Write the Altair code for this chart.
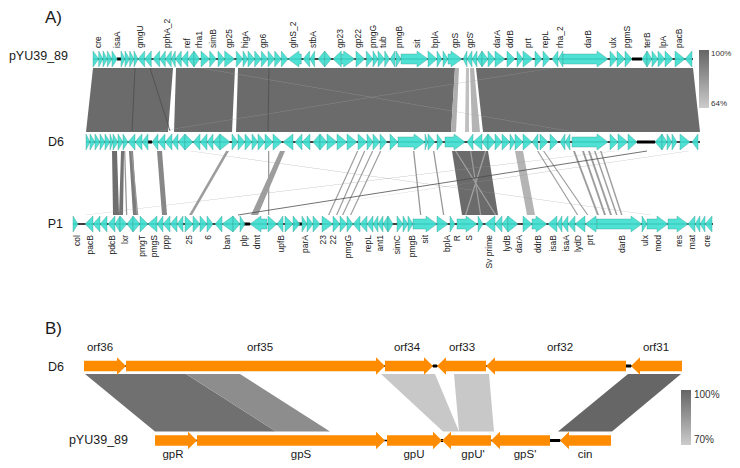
import altair as alt
import pandas as pd

FONT = "Liberation Sans"

# ---------------- track rows (vertical position of each sequence row) ----------------
ROW_Y = {"A_pYU": 59, "A_D6": 142, "A_P1": 224, "B_D6": 366, "B_pYU": 440.5}
ROW_SPAN = {"A_pYU": (93, 693), "A_D6": (86, 700), "A_P1": (73, 713),
            "B_D6": (84, 682), "B_pYU": (155, 611)}

# ---------------- genes: (start, end, strand) ----------------
PYU_GENES = [
    (93, 98.7, 1), (98.7, 103, 1), (103, 107.3, 1), (107.3, 112, 1), (112, 117.3, 1),
    (121, 125, 1), (125, 129.7, 1), (129.7, 134, 1), (134, 138, 1),
    (138, 144.7, -1), (144.7, 151.3, -1), (153, 159.7, -1), (159.7, 165.3, -1),
    (165.3, 171.3, -1), (171.3, 175.3, -1), (175.3, 181.3, -1), (181.3, 188, -1),
    (188, 194, -1), (194, 199.7, 1), (201, 209.7, 1), (209.7, 216.3, 1),
    (218, 224.7, 1), (224.7, 234.7, 1),
    (236.3, 243, 1), (243, 248, 1), (248, 254.7, 1), (254.7, 261.3, 1),
    (261.3, 268, 1), (268, 274.7, 1), (274.7, 281.3, 1), (281.3, 288, 1),
    (288, 301.3, -1), (303, 309.7, -1), (309.7, 314.7, -1), (318, 324.7, -1), (324.7, 331.3, 1),
    (333, 341.3, -1), (341.3, 354.7, 1), (356, 364.7, 1),
    (366.3, 373, 1), (373, 378, 1), (378, 384.7, 1), (384.7, 389.7, 1), (390, 395, -1), (396, 401, 1),
    (401, 428, 1), (428, 437, 1), (437, 442, 1), (443, 448, 1), (448, 462, 1),
    (463, 467, -1), (467, 472, -1), (472, 477, -1), (477, 482, -1), (482, 488, 1), (488, 495, 1), (495, 505, 1),
    (507, 515, 1), (517, 523, 1), (523, 533, 1), (535, 542, 1), (543, 550, 1),
    (552, 558, -1), (558, 563, -1), (563, 608, 1), (610, 617, 1), (617, 625, 1), (625, 632, 1),
    (642, 647, -1), (647, 652, 1), (652, 658, 1), (658, 665, 1), (665, 673, 1), (675, 685, 1), (685, 692, -1),
]
D6_GENES = [
    (86, 90, 1), (90, 95, 1), (95, 100, 1), (100, 105, 1), (105, 110, 1), (110, 113, 1),
    (113, 118, 1), (118, 123, 1), (123, 128, 1),
    (128, 135, -1), (135, 142, -1), (142, 148, -1),
    (152, 158, -1), (158, 165, -1), (165, 172, -1), (172, 178, -1), (178, 185, -1),
    (185, 193, 1), (193, 200, -1), (200, 207, -1), (207, 213, -1), (213, 220, -1),
    (220, 230, 1),
    (232, 238, 1), (238, 245, 1), (245, 252, 1), (252, 258, 1), (258, 265, 1), (265, 273, 1), (273, 282, 1),
    (283, 293, -1), (295, 302, -1), (302, 310, -1), (313, 320, -1), (320, 327, 1), (327, 337, 1), (337, 347, 1),
    (347, 357, 1), (358, 367, 1), (367, 373, 1), (373, 380, 1), (380, 387, 1), (390, 398, 1),
    (398, 425, 1), (425, 428, 1), (428, 435, 1), (437, 443, 1), (445, 465, 1),
    (467, 473, -1), (473, 482, -1), (482, 488, -1), (488, 495, 1), (495, 502, 1), (502, 510, 1), (510, 515, 1),
    (515, 523, 1), (523, 532, 1), (532, 538, -1), (540, 548, 1), (550, 558, 1), (560, 565, -1), (565, 570, -1),
    (572, 608, 1), (610, 618, 1), (618, 628, 1), (628, 637, 1),
    (655, 662, -1), (662, 667, 1), (667, 672, 1), (672, 677, 1), (680, 690, 1), (692, 698, -1),
]
P1_GENES = [
    (73, 78, 1), (85, 93, -1), (93, 100, -1), (100, 107, -1), (108, 115, -1), (115, 120, -1),
    (120, 127, 1), (127, 133, -1), (133, 140, 1), (140, 148, 1), (148, 157, -1),
    (157, 163, -1), (163, 170, -1), (170, 177, -1), (177, 183, -1),
    (185, 193, 1), (193, 200, 1), (200, 207, 1), (207, 213, 1),
    (215, 222, -1), (222, 233, -1), (233, 240, 1), (240, 245, 1),
    (250, 267, -1), (268, 277, 1), (277, 283, -1), (285, 293, 1), (293, 300, 1),
    (302, 307, 1), (307, 313, 1), (313, 320, 1), (322, 333, 1), (333, 340, 1),
    (340, 347, 1), (347, 353, 1), (353, 360, -1), (360, 367, -1), (367, 373, -1),
    (373, 378, -1), (378, 383, -1), (383, 388, -1), (388, 393, 1),
    (397, 403, 1), (403, 408, 1), (408, 413, 1), (413, 437, 1), (437, 448, 1),
    (450, 455, 1), (457, 477, 1), (478, 483, 1), (485, 495, -1),
    (495, 502, -1), (502, 508, -1), (508, 518, 1), (523, 532, 1), (532, 547, 1),
    (548, 557, -1), (557, 562, -1), (562, 568, -1), (568, 575, -1), (575, 585, -1),
    (585, 597, -1), (597, 642, 1), (642, 647, 1), (647, 668, 1), (668, 688, 1),
    (688, 695, -1), (695, 700, -1), (700, 705, -1), (705, 712, -1),
]
D6_B_GENES = [(84, 126, 1), (126, 385, 1), (385, 433, 1), (437, 486, -1), (486, 626, -1), (631, 682, -1)]
PYU_B_GENES = [(155, 197, 1), (197, 385, 1), (387, 442, 1), (442, 491, -1), (491, 550, -1), (560, 611, -1)]

# ---------------- gene labels: (position, name) ----------------
PYU_LABELS = [(98, "cre"), (117, "isaA"), (140, "gmgU"), (167, "pphA_2"), (187, "ref"), (199, "rha1"),
              (213, "simB"), (229, "gp25"), (245, "higA"), (263, "gp6"), (293, "glnS_2"), (313, "stbA"),
              (340, "gp23"), (358, "gp22"), (373, "pmgG"), (383, "tub"), (399, "pmgB"), (417, "sit"),
              (435, "bplA"), (455, "gpS"), (470, "gpS'"), (497, "darA"), (510, "ddrB"), (528, "prt"),
              (545, "repL"), (560, "rha_2"), (588, "darB"), (613, "ulx"), (627, "pgmS"), (647, "terB"),
              (663, "lpA"), (679, "pacB")]
P1_LABELS = [(77, "col"), (90, "pacB"), (112, "pdcB"), (125, "lxr"), (142, "pmgT"), (154, "pmgS"),
             (166, "ppp"), (189, "25"), (208, "6"), (227, "ban"), (244, "plp"), (257, "dmt"), (281, "upfB"),
             (305, "parA"), (323, "23"), (333, "22"), (348, "pmgG"), (368, "repL"), (380, "ant1"),
             (397, "simC"), (412, "pmgB"), (425, "sit"), (447, "bplA"), (457, "R"), (469, "S"),
             (489, "Sv prime"), (507, "lydB"), (519, "darA"), (538, "ddrB"), (553, "isaB"), (566, "isaA"),
             (578, "lydD"), (590, "prt"), (622, "darB"), (645, "ulx"), (658, "mod"), (679, "res"),
             (692, "mat"), (707, "cre")]
D6_B_LABELS = [(100, "orf36"), (260, "orf35"), (407, "orf34"), (462, "orf33"), (560, "orf32"), (656, "orf31")]
PYU_B_LABELS = [(173, "gpR"), (301, "gpS"), (414, "gpU"), (473, "gpU'"), (525, "gpS'"), (585, "cin")]

# ---------------- similarity links: (top_a, top_b, bottom_a, bottom_b, identity %) ----------------
LINKS_PYU_D6 = [
    (93, 173, 86, 168, 98), (176, 235, 174, 232, 98), (238, 455, 236, 451, 98),
    (455, 459, 451, 456, 74), (466, 469, 465, 469, 68), (470, 474, 472, 480, 72),
    (476, 693, 483, 700, 98), (200, 201.3, 574, 575.3, 76), (552, 553.3, 154, 155.3, 78),
]
LINKS_D6_P1 = [
    (112, 117, 113, 119, 97), (121, 124, 119, 123, 95), (129, 133, 133, 137, 92), (157, 162, 162, 167, 88),
    (124, 125.3, 126, 127.3, 82), (131, 132.3, 137, 138.3, 82),
    (226, 229, 189, 192, 80), (280, 285, 251, 258, 80), (268, 269.3, 268, 269.3, 80),
    (357, 358.3, 328, 329.3, 80), (364, 365.3, 336, 337.3, 80), (372, 373.3, 342, 343.3, 80),
    (380, 381.3, 350, 351.3, 80),
    (413, 414.3, 420, 421.3, 82), (433, 434.3, 443, 444.3, 82),
    (452, 488, 462, 498, 98),
    (515, 523, 527, 535, 72),
    (537, 538.3, 577, 578.3, 80), (543, 544.3, 587, 588.3, 80),
    (573, 575, 597, 599, 80), (582, 584, 604, 606, 80), (588, 590, 610, 612, 80),
    (594, 595.5, 616, 617.5, 80), (600, 601.5, 621, 622.5, 80),
    (190, 191.3, 650, 651.3, 82), (614, 615.3, 85, 86.3, 82), (688, 689.3, 250, 251.3, 84),
    (455, 456.3, 495, 496.3, 78), (485, 486.3, 465, 466.3, 78), (470, 471.3, 480, 481.3, 80),
]
LINKS_B = [
    (85, 186, 155, 276, 97), (186, 240, 276, 330, 88),
    (381, 435, 443, 459, 71), (454, 489, 459, 494, 71),
    (628, 681, 558, 612, 100),
]
# thin dark block-boundary lines: (x_top, y_top, x_bottom, y_bottom)
DARK_LINES = [(135, 68, 132, 131), (150, 68, 170, 131), (269, 68, 268, 131), (647, 151, 238, 215)]
# thicker backbone stretches between genes: (row, start, end)
SPACERS = [("A_pYU", 632, 642), ("A_pYU", 117, 121), ("A_D6", 637, 655), ("A_D6", 148, 152),
           ("A_P1", 243, 250), ("A_P1", 293, 302), ("B_D6", 433, 437), ("B_D6", 626, 631),
           ("B_pYU", 550, 560), ("B_pYU", 441, 443)]

# ---------------- build tables ----------------
EPS = 0.01


def arrow_rows(genes, row, H, b, head):
    yc = ROW_Y[row]
    out = []
    for i, (s, e, st) in enumerate(genes):
        if e - s <= head:
            if st > 0:
                pts = [(s, yc - H, yc + H), (e, yc, yc)]
            else:
                pts = [(s, yc, yc), (e, yc - H, yc + H)]
        elif st > 0:
            pts = [(s, yc - b, yc + b), (e - head - EPS, yc - b, yc + b),
                   (e - head, yc - H, yc + H), (e, yc, yc)]
        else:
            pts = [(s, yc, yc), (s + head, yc - H, yc + H),
                   (s + head + EPS, yc - b, yc + b), (e, yc - b, yc + b)]
        for x, y1, y2 in pts:
            out.append(dict(gid=f"{row}-{i}", x=x, y1=y1, y2=y2))
    return out


def link_rows(links, y_top, y_bot, prefix):
    out = []
    for i, (a1, b1, a2, b2, ident) in enumerate(links):
        out.append(dict(lid=f"{prefix}{i}", y=y_top, xa=a1, xb=b1, ident=ident))
        out.append(dict(lid=f"{prefix}{i}", y=y_bot, xa=a2, xb=b2, ident=ident))
    return out


genesA = pd.DataFrame(arrow_rows(PYU_GENES, "A_pYU", 8, 5, 11)
                      + arrow_rows(D6_GENES, "A_D6", 8, 5, 11)
                      + arrow_rows(P1_GENES, "A_P1", 8, 5, 11))
genesB = pd.DataFrame(arrow_rows(D6_B_GENES, "B_D6", 8.7, 5.3, 9)
                      + arrow_rows(PYU_B_GENES, "B_pYU", 8.7, 5.3, 9))
linksA = pd.DataFrame(link_rows(LINKS_PYU_D6, 68, 132, "pd") + link_rows(LINKS_D6_P1, 151, 215, "dp"))
linksB = pd.DataFrame(link_rows(LINKS_B, 374, 431.5, "b"))
darkl = pd.DataFrame([dict(x=a, y=b, x2=c, y2=d) for a, b, c, d in DARK_LINES])
backbone = pd.DataFrame([dict(row=r, s=ROW_SPAN[r][0], e=ROW_SPAN[r][1], y=ROW_Y[r]) for r in ROW_Y])
spacers = pd.DataFrame([dict(s=s, e=e, y=ROW_Y[r]) for r, s, e in SPACERS])

top_lab = pd.DataFrame([dict(x=x, t=t, y=48) for x, t in PYU_LABELS])
bot_lab = pd.DataFrame([dict(x=x, t=t, y=235) for x, t in P1_LABELS])
b_lab = pd.DataFrame([dict(x=x, t=t, y=348) for x, t in D6_B_LABELS]
                     + [dict(x=x, t=t, y=454.5) for x, t in PYU_B_LABELS])
names = pd.DataFrame([
    dict(x=68, y=56, t="pYU39_89"), dict(x=64, y=142, t="D6"), dict(x=63, y=223.5, t="P1"),
    dict(x=64, y=366.5, t="D6"), dict(x=128, y=440, t="pYU39_89"),
])
panels = pd.DataFrame([dict(x=45, y=17.5, t="A)"), dict(x=45, y=329, t="B)")])

# ---------------- scales ----------------
xs = alt.Scale(domain=[8, 732], nice=False, zero=False)
ys = alt.Scale(domain=[8, 460], reverse=True, nice=False, zero=False)


def X(f):
    return alt.X(f, type="quantitative", scale=xs, axis=None)


def Y(f):
    return alt.Y(f, type="quantitative", scale=ys, axis=None)


legA = alt.Legend(orient="none", legendX=691, legendY=42, direction="vertical", title=None,
                  gradientLength=58, gradientThickness=10, gradientStrokeWidth=0,
                  values=[64, 100], labelExpr="datum.value + '%'", labelFontSize=8,
                  labelFont=FONT, labelColor="#333333", labelOffset=2)
legB = alt.Legend(orient="none", legendX=673, legendY=382, direction="vertical", title=None,
                  gradientLength=55, gradientThickness=10, gradientStrokeWidth=0,
                  values=[70, 100], labelExpr="datum.value + '%'", labelFontSize=10,
                  labelFont=FONT, labelColor="#333333", labelOffset=3)

l_linksA = alt.Chart(linksA).mark_area(orient="horizontal", strokeWidth=0, opacity=1).encode(
    y=Y("y"), x=alt.X("xa:Q", scale=xs, axis=None, stack=None), x2="xb:Q",
    detail="lid:N",
    color=alt.Color("ident:Q", scale=alt.Scale(domain=[64, 100], range=["#cccccc", "#666666"]), legend=legA),
)
l_linksB = alt.Chart(linksB).mark_area(orient="horizontal", strokeWidth=0, opacity=1).encode(
    y=Y("y"), x=alt.X("xa:Q", scale=xs, axis=None, stack=None), x2="xb:Q",
    detail="lid:N",
    color=alt.Color("ident:Q", scale=alt.Scale(domain=[70, 100], range=["#cccccc", "#666666"]), legend=legB),
)
l_dark = alt.Chart(darkl).mark_rule(color="#4d4d4d", strokeWidth=0.8).encode(
    x=X("x"), y=Y("y"), x2="x2:Q", y2="y2:Q")
l_back = alt.Chart(backbone).mark_rule(color="black", strokeWidth=1.6).encode(
    x=X("s"), x2="e:Q", y=Y("y"))
l_spac = alt.Chart(spacers).mark_rule(color="black", strokeWidth=3).encode(
    x=X("s"), x2="e:Q", y=Y("y"))
l_genesA = alt.Chart(genesA).mark_area(fill="#40E0D0", fillOpacity=0.92, stroke="#3a9f96",
                                       strokeWidth=0.4).encode(
    x=X("x"), y=alt.Y("y1:Q", scale=ys, axis=None, stack=None), y2="y2:Q",
    detail="gid:N")
l_genesB = alt.Chart(genesB).mark_area(fill="#FF8C00", strokeWidth=0).encode(
    x=X("x"), y=alt.Y("y1:Q", scale=ys, axis=None, stack=None), y2="y2:Q",
    detail="gid:N")

l_top = alt.Chart(top_lab).mark_text(angle=270, align="left", baseline="middle", font=FONT,
                                     fontSize=8.5, color="#1a1a1a").encode(x=X("x"), y=Y("y"), text="t:N")
l_bot = alt.Chart(bot_lab).mark_text(angle=270, align="right", baseline="middle", font=FONT,
                                     fontSize=8.5, color="#1a1a1a").encode(x=X("x"), y=Y("y"), text="t:N")
l_blab = alt.Chart(b_lab).mark_text(align="center", baseline="middle", font=FONT,
                                    fontSize=11.5, color="#1a1a1a").encode(x=X("x"), y=Y("y"), text="t:N")
l_names = alt.Chart(names).mark_text(align="right", baseline="middle", font=FONT,
                                     fontSize=12.5, color="#1a1a1a").encode(x=X("x"), y=Y("y"), text="t:N")
l_panels = alt.Chart(panels).mark_text(align="left", baseline="middle", font=FONT,
                                       fontSize=17, color="#1a1a1a").encode(x=X("x"), y=Y("y"), text="t:N")

chart = alt.layer(
    l_linksA, l_linksB, l_dark, l_back, l_spac, l_genesA, l_genesB,
    l_top, l_bot, l_blab, l_names, l_panels,
).resolve_scale(color="independent").properties(
    width=724, height=452, padding=0, background="white",
    autosize=alt.AutoSizeParams(type="fit", contains="padding"),
).configure_view(stroke=None)

chart.save("out.html", embed_options={"renderer": "svg", "actions": False})
